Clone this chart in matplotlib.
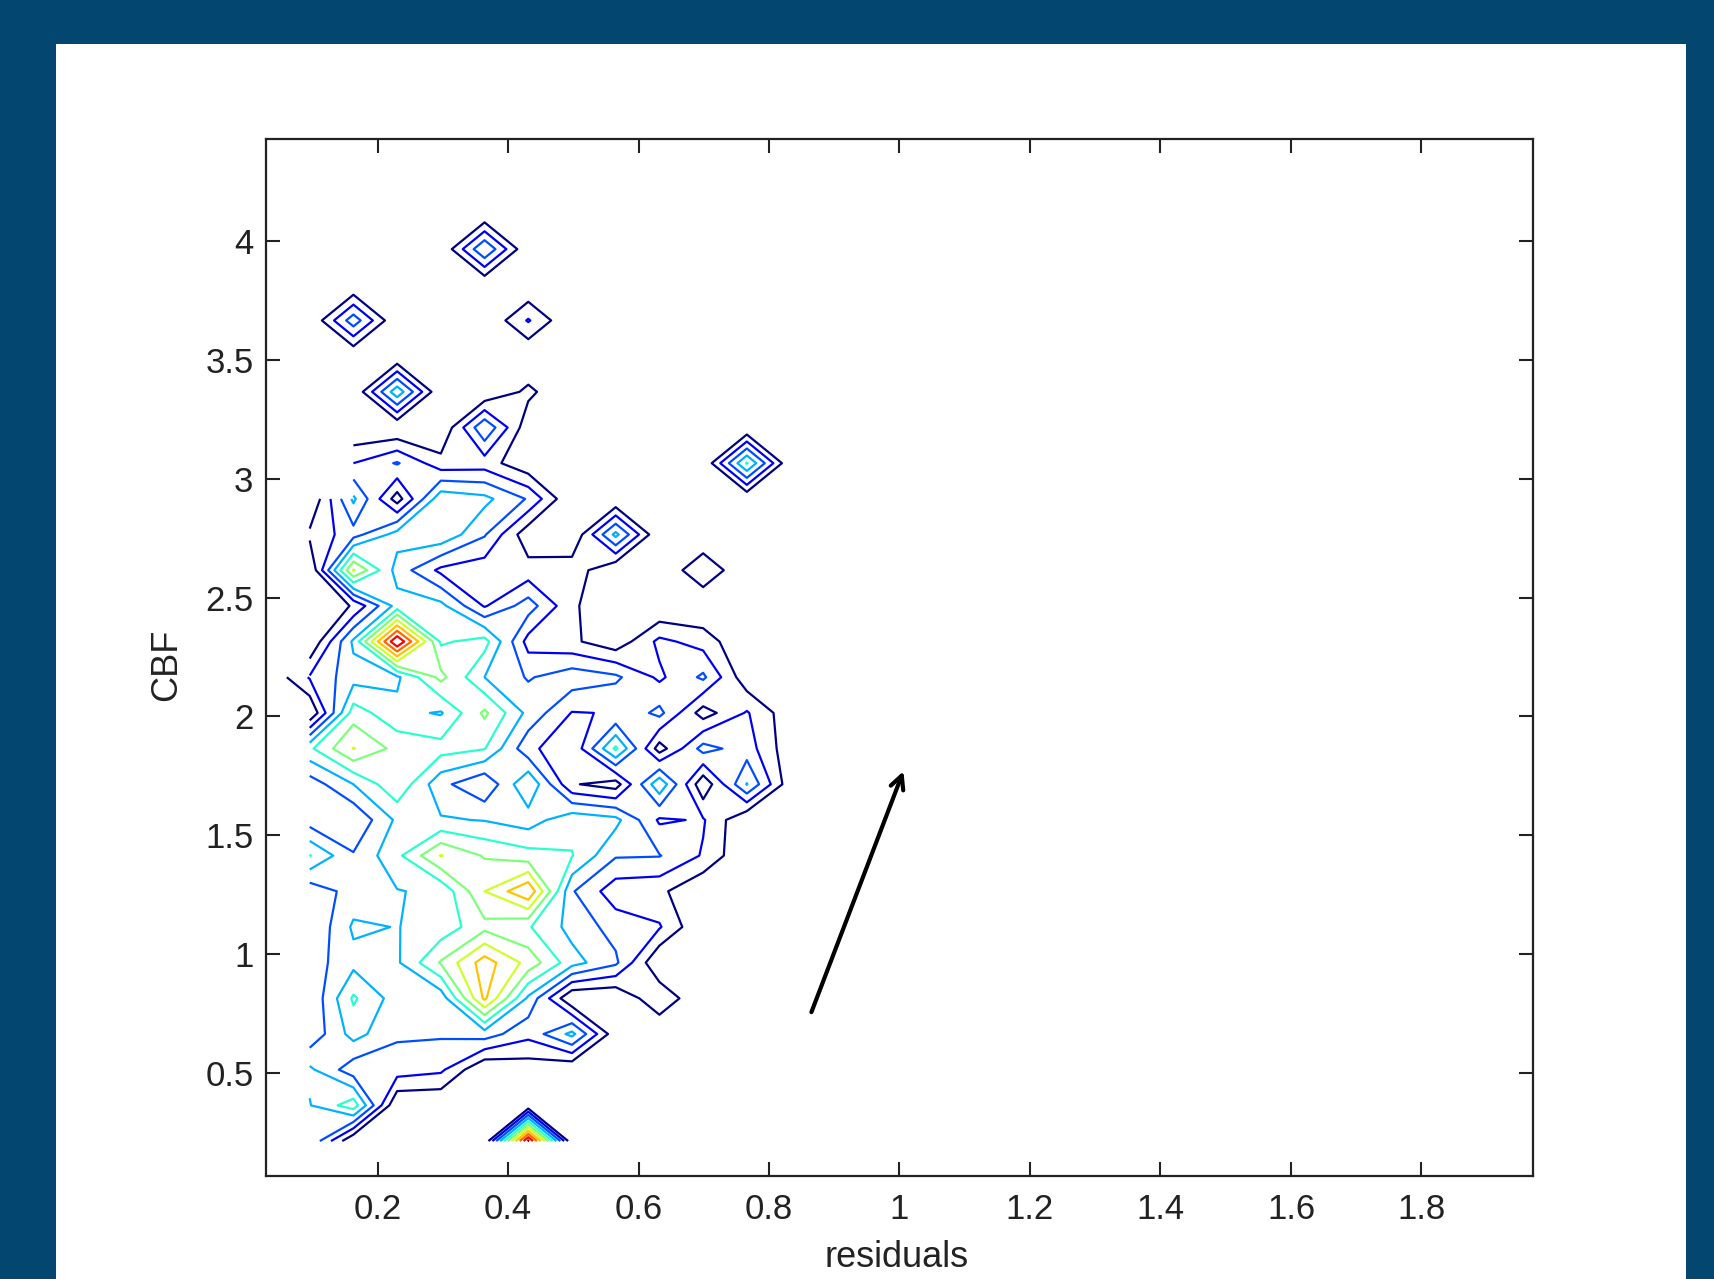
import numpy as np
import matplotlib
matplotlib.use('Agg')
import matplotlib.pyplot as plt
from matplotlib.patches import Rectangle

plt.rcParams['font.family'] = ['Liberation Sans', 'DejaVu Sans']

n = np.nan

x_bins = [0.029, 0.096, 0.163, 0.230, 0.297, 0.364, 0.431, 0.498, 0.565, 0.632, 0.699, 0.766, 0.833]
y_bins = [0.215, 0.365, 0.515, 0.665, 0.815, 0.965, 1.115, 1.265, 1.415, 1.565, 1.715, 1.865, 2.015, 2.165,
          2.315, 2.465, 2.615, 2.765, 2.915, 3.065, 3.215, 3.365, 3.515, 3.665, 3.815, 3.965, 4.115]

# counts per bin, bottom row first
counts = [
    [n, 3.9, 0, 0, 0, 0, 11.2, 0, 0, 0, 0, 0, 0],
    [n, 3.95, 5.6, 0, 0, 0, 0, 0, 0, 0, 0, 0, 0],
    [n, 4.2, 2.4, 2.5, 2.2, 0, 0.4, 0, 0, 0, 0, 0, 0],
    [n, 2.25, 4.4, 3.15, 3.13, 3.5, 2.3, 4.3, 0.3, 0, 0, 0, 0],
    [n, 2.1, 5.15, 3.5, 3.37, 8.2, 3.8, 0, 0, 1.85, 0, 0, 0],
    [n, 2.5, 3.7, 3.85, 6.1, 8.5, 6.65, 4.4, 3.2, 0, 0, 0, 0],
    [n, 2.0, 4.16, 3.97, 4.38, 5.7, 5.1, 3.65, 2.6, 2.1, 0, 0, 0],
    [n, 2.35, 3.4, 3.95, 4.2, 7.0, 8.9, 3.1, 1.4, 1.25, 0, 0, 0],
    [n, 5.05, 3.1, 4.75, 7.05, 5.9, 5.4, 5.05, 3.1, 3.05, 1.9, 0, 0],
    [n, 2.5, 2.1, 4.2, 4.1, 3.95, 3.5, 4.7, 4.3, 1.85, 2.1, 0, 0],
    [n, 2.45, 4.0, 5.8, 3.3, 2.1, 4.95, 1.11, 0.5, 4.8, 0.2, 4.05, 0.3],
    [n, 4.8, 7.05, 5.67, 5.4, 5.05, 2.3, 1.1, 5.2, 0.5, 3.4, 2.5, 0.3],
    [0, 0, 5.5, 4.3, 3.9, 6.2, 3.7, 1.95, 2.05, 3.3, 0.5, 2.1, 0.3],
    [0, 2.1, 3.6, 3.8, 6.3, 4.0, 2.9, 3.6, 3.2, 1.8, 3.2, 0.3, 0],
    [n, 0, 4.2, 11.0, 4.84, 5.4, 1.6, 1.2, 0.3, 2.25, 1.6, 0, 0],
    [n, 0, 1.1, 4.4, 4.3, 1.9, 3.5, 1.2, 0, 0, 0, 0, 0],
    [n, 0, 7.1, 3.6, 1.75, 1.4, 1.4, 1.6, 0, 0, 1.9, 0, 0],
    [n, 1.2, 2.6, 4.4, 4.8, 3.1, 0.3, 0, 4.3, 0, 0, 0, 0],
    [n, 0, 4.2, 0.5, 4.7, 4.28, 2.9, 0, 0, 0, 0, 0, 0],
    [n, n, 2.0, 3.1, 1.37, 1.5, 0.2, 0, 0, 0, 0, 5.1, 0],
    [n, n, 0, 0, 0, 3.9, 0.3, 0, 0, 0, 0, 0, 0],
    [n, n, 0, 4.7, 0, 0, 1.25, 0, 0, 0, 0, 0, 0],
    [n, 0, 0, 0, 0, 0, 0, 0, 0, 0, 0, 0, 0],
    [n, 0, 3.6, 0, 0, 0, 2.1, 0, 0, 0, 0, 0, 0],
    [n, 0, 0, 0, 0, 0, 0, 0, 0, 0, 0, 0, 0],
    [n, 0, 0, 0, 0, 4.0, 0, 0, 0, 0, 0, 0, 0],
    [n, 0, 0, 0, 0, 0, 0, 0, 0, 0, 0, 0, 0],
]
levels = [1, 2, 3, 4, 5, 6, 7, 8, 9, 10, 11]

x_ticks = [0.2, 0.4, 0.6, 0.8, 1, 1.2, 1.4, 1.6, 1.8]
x_ticklabels = ['0.2', '0.4', '0.6', '0.8', '1', '1.2', '1.4', '1.6', '1.8']
y_ticks = [0.5, 1, 1.5, 2, 2.5, 3, 3.5, 4]
y_ticklabels = ['0.5', '1', '1.5', '2', '2.5', '3', '3.5', '4']

W, H = 1715, 1279
fig = plt.figure(figsize=(W / 100, H / 100), dpi=100, facecolor='#03466f')
fig.add_artist(Rectangle((56 / W, 0), 1630 / W, 1 - 44 / H, transform=fig.transFigure,
                         facecolor='white', edgecolor='none', zorder=-1))

ax = fig.add_axes([266 / W, 1 - 1176 / H, 1267 / W, 1037 / H])
colors = plt.cm.jet(np.linspace(0, 1, len(levels)))
ax.contour(x_bins, y_bins, np.array(counts), levels=levels, colors=colors,
           linewidths=1.6, corner_mask=False)

# arrow pointing at the cloud
ax.annotate('', xy=(1.006, 1.77), xytext=(0.865, 0.757),
            arrowprops=dict(arrowstyle='->', color='black', lw=3, mutation_scale=24,
                            shrinkA=0, shrinkB=0))

ax.set_xlim(0.029, 1.971)
ax.set_ylim(0.068, 4.428)
ax.set_xticks(x_ticks)
ax.set_xticklabels(x_ticklabels)
ax.set_yticks(y_ticks)
ax.set_yticklabels(y_ticklabels)
ax.tick_params(direction='in', length=10, width=1.5, top=True, right=True, labelsize=25,
               labelcolor='#222222', color='#222222')
ax.tick_params(axis='x', pad=12)
ax.tick_params(axis='y', pad=9)
for s in ax.spines.values():
    s.set_linewidth(1.6)
    s.set_color('#222222')

ax.set_xlabel('residuals', fontsize=26, color='#222222')
ax.set_ylabel('CBF', fontsize=26, color='#222222')
ax.xaxis.set_label_coords(0.498, -0.062)
ax.yaxis.set_label_coords(-0.065, 0.493)

fig.savefig('out.png', dpi=100, facecolor=fig.get_facecolor())
